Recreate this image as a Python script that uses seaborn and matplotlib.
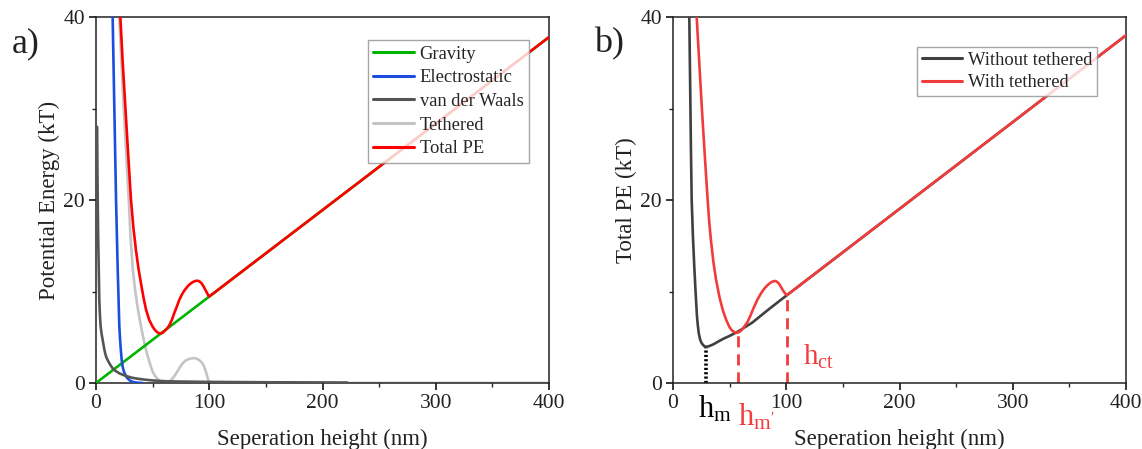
import numpy as np
import pandas as pd
import matplotlib
matplotlib.use("Agg")
import matplotlib.pyplot as plt
import seaborn as sns
from matplotlib.lines import Line2D

# ---------------- data ----------------
# Panel a
grav_x = [0, 100, 400]
grav_y = [0.0, 9.45, 37.8]

elec_x = [13.5, 14.7, 16.2, 17.7, 19.1, 20.6, 21.3, 22.0, 22.7, 23.5, 24.5, 25.5, 26.7, 27.9,
          29.5, 31.0, 33.0, 35.3, 38.0, 41.0]
elec_y = [45.0, 40.0, 30.0, 20.0, 12.7, 6.15, 4.7, 3.5, 2.5, 1.8, 1.3, 1.0, 0.7, 0.5,
          0.32, 0.2, 0.1, 0.05, 0.02, 0.0]

vdw_x = [1.0, 1.2, 1.5, 1.9, 2.4, 2.9, 3.4, 4.0, 4.9, 5.9, 7.0, 8.0, 9.0, 10.3, 12.5, 14.7,
         17.5, 20.6, 24.0, 27.0, 31.0, 35.0, 42.0, 50.0, 57.0, 64.0, 80.0, 100.0, 150.0, 222.0]
vdw_y = [28.0, 24.0, 20.0, 16.0, 12.7, 9.1, 7.6, 6.3, 5.4, 4.7, 3.9, 3.3, 2.85, 2.5, 2.0, 1.6,
         1.3, 1.06, 0.88, 0.75, 0.6, 0.5, 0.38, 0.28, 0.22, 0.18, 0.15, 0.12, 0.08, 0.05]

teth_x = [19.5, 20.5, 22.5, 24.5, 26.7, 28.9, 30.5, 32.3, 34.2, 36.2, 38.2, 40.2, 42.2, 44.2,
          46.2, 48.2, 50.0, 52.0, 54.0, 55.7, 57.4, 59.0, 61.0, 63.0, 64.5, 66.0, 68.0, 70.0,
          72.0, 74.0, 76.5, 79.0, 82.0, 84.5, 86.8, 89.0, 90.5, 92.3, 94.0, 95.5, 97.0, 98.5,
          100.0, 400.0]
teth_y = [45.0, 40.0, 35.0, 30.0, 25.0, 20.0, 16.0, 12.7, 10.5, 8.7, 7.25, 5.9, 4.7, 3.6,
          2.7, 1.9, 1.24, 0.8, 0.5, 0.28, 0.15, 0.07, 0.02, 0.05, 0.15, 0.3, 0.55, 0.9,
          1.3, 1.7, 2.15, 2.45, 2.62, 2.7, 2.72, 2.65, 2.55, 2.38, 2.15, 1.8, 1.25, 0.6,
          0.0, 0.0]

tot_x = [20.5, 21.5, 23.6, 26.0, 28.4, 30.9, 33.0, 35.3, 37.5, 39.7, 42.0, 44.2, 47.0, 50.0,
         52.0, 54.0, 56.0, 57.4, 59.0, 61.0, 63.0, 64.7, 67.0, 69.0, 71.5, 73.6, 76.0, 78.0,
         80.5, 82.4, 85.0, 87.0, 89.0, 90.6, 92.0, 93.5, 95.0, 96.5, 98.0, 99.0, 100.0, 400.0]
tot_y = [45.0, 40.0, 35.0, 30.0, 25.0, 20.0, 17.0, 14.5, 12.5, 10.9, 9.3, 8.0, 6.9, 6.15,
         5.8, 5.55, 5.43, 5.42, 5.5, 5.75, 6.0, 6.3, 6.9, 7.6, 8.4, 9.1, 9.7, 10.1,
         10.5, 10.75, 11.0, 11.12, 11.18, 11.15, 11.05, 10.85, 10.55, 10.2, 9.85, 9.6, 9.45, 37.8]

# Panel b
wo_x = [13.8, 14.4, 14.9, 15.4, 15.9, 16.5, 17.6, 18.8, 20.0, 21.2, 22.0, 22.8, 24.1, 25.3,
        26.8, 28.0, 29.1, 30.5, 33.0, 36.0, 39.5, 45.0, 50.0, 57.1, 70.0, 85.0, 100.6, 400.0]
wo_y = [45.0, 40.0, 35.0, 30.0, 25.0, 20.0, 16.0, 12.7, 9.8, 7.25, 6.2, 5.4, 4.7, 4.35,
        4.12, 4.0, 3.97, 3.98, 4.08, 4.25, 4.5, 4.87, 5.15, 5.6, 6.6, 8.1, 9.6, 38.0]

w_x = [20.3, 20.9, 23.2, 25.5, 28.0, 30.6, 32.0, 33.5, 35.7, 38.0, 41.0, 43.9, 46.8, 49.7,
       52.0, 54.0, 55.5, 57.1, 58.5, 60.0, 62.0, 64.0, 65.9, 68.5, 71.5, 74.5, 77.7, 80.5,
       83.5, 86.5, 89.4, 91.0, 92.5, 94.0, 95.3, 96.7, 98.0, 99.3, 100.6, 400.0]
w_y = [45.0, 40.0, 35.0, 30.0, 25.0, 20.0, 17.6, 15.6, 13.2, 11.3, 9.4, 8.0, 6.95, 6.15,
       5.75, 5.57, 5.5, 5.5, 5.57, 5.72, 6.0, 6.35, 6.7, 7.4, 8.3, 9.1, 9.8, 10.3,
       10.7, 11.0, 11.15, 11.12, 11.0, 10.78, 10.5, 10.2, 9.95, 9.75, 9.6, 38.0]

hm, hm_y = 29.1, 3.97
hmp, hmp_y = 57.1, 5.5
hct, hct_y = 100.6, 9.6

x_ticks = [0, 100, 200, 300, 400]
y_ticks = [0, 20, 40]

# ---------------- style ----------------
sns.set_style("ticks")
plt.rcParams["font.family"] = ["Liberation Serif", "DejaVu Serif"]
plt.rcParams["mathtext.fontset"] = "custom"
plt.rcParams["mathtext.rm"] = "Liberation Serif"
plt.rcParams["mathtext.it"] = "Liberation Serif:italic"

W, H = 1142, 449
fig = plt.figure(figsize=(W / 100, H / 100), dpi=100)

def px_axes(l, r, t, b):
    return fig.add_axes([l / W, 1 - b / H, (r - l) / W, (b - t) / H])

axa = px_axes(96, 549, 17, 383)
axb = px_axes(673, 1126, 17, 383)

lw = 1.9
c_green = "#00b400"
c_blue = "#1a4de0"
c_vdw = "#555555"
c_teth = "#c4c4c4"
c_red = "#ff0000"

def line(ax, xs, ys, color, label, z, lw=lw):
    df = pd.DataFrame({"x": xs, "y": ys})
    sns.lineplot(data=df, x="x", y="y", color=color, lw=lw, sort=False,
                 estimator=None, ax=ax, label=label, zorder=z, legend=False)

line(axa, grav_x, grav_y, c_green, "Gravity", 3)
line(axa, elec_x, elec_y, c_blue, "Electrostatic", 3)
line(axa, vdw_x, vdw_y, c_vdw, "van der Waals", 3)
line(axa, teth_x, teth_y, c_teth, "Tethered", 2)
line(axa, tot_x, tot_y, c_red, "Total PE", 4)

c_blk = "#404040"
c_red2 = "#f23c3c"
line(axb, wo_x, wo_y, c_blk, "Without tethered", 3)
line(axb, w_x, w_y, c_red2, "With tethered", 4)

# annotation lines in b
axb.plot([hm, hm], [0, hm_y], color="black", lw=2.6, ls=(0, (0.6, 0.6)), zorder=2)
axb.plot([hmp, hmp], [0, hmp_y], color=c_red2, lw=2.0, ls=(0, (4, 2.5)), zorder=2)
axb.plot([hct, hct], [0, hct_y], color=c_red2, lw=2.0, ls=(0, (4, 2.5)), zorder=2)

for ax, ylab in [(axa, "Potential Energy (kT)"), (axb, "Total PE (kT)")]:
    ax.set_xlim(0, 400)
    ax.set_ylim(0, 40)
    ax.set_xticks(x_ticks)
    ax.set_yticks(y_ticks)
    ax.set_xticks([50, 150, 250, 350], minor=True)
    ax.set_yticks([10, 30], minor=True)
    ax.tick_params(axis="both", which="major", direction="out", length=5, width=1.1,
                   labelsize=15.5, pad=3, colors="black", labelcolor="#222222")
    ax.tick_params(axis="both", which="minor", direction="out", length=3, width=1.0)
    ax.tick_params(top=False, right=False)
    for s in ax.spines.values():
        s.set_linewidth(1.1)
        s.set_color("#222222")
    ax.set_xlabel("Seperation height (nm)", fontsize=16.5, labelpad=11, color="#222222")
    ax.set_ylabel(ylab, fontsize=16.5, labelpad=2, color="#222222")

# legends
ha = [Line2D([], [], color=c, lw=2.2) for c in [c_green, c_blue, c_vdw, c_teth, c_red]]
leg = axa.legend(ha, ["Gravity", "Electrostatic", "van der Waals", "Tethered", "Total PE"],
                 loc="upper left", bbox_to_anchor=(0.600, 0.937), borderaxespad=0,
                 fontsize=13.3, frameon=True, fancybox=False, handlelength=2.2,
                 handletextpad=0.3, labelspacing=0.36, borderpad=0.3)
leg.get_frame().set_edgecolor("#909090")
leg.get_frame().set_linewidth(1.0)

hb = [Line2D([], [], color=c, lw=2.2) for c in [c_blk, c_red2]]
legb = axb.legend(hb, ["Without tethered", "With tethered"],
                  loc="upper left", bbox_to_anchor=(0.5386, 0.918), borderaxespad=0,
                  fontsize=13.3, frameon=True, fancybox=False, handlelength=2.2,
                  handletextpad=0.3, labelspacing=0.3, borderpad=0.25)
legb.get_frame().set_edgecolor("#909090")
legb.get_frame().set_linewidth(1.0)

# labels in b
axb.text(114.7, 1.97, r"h$_{\rm ct}$", color=c_red2, fontsize=21, ha="left", va="baseline")
axb.text(21.8, -3.8, r"h$_{\rm m}$", color="black", fontsize=22, ha="left", va="baseline", clip_on=False)
axb.text(57.4, -4.6, r"h$_{\rm m'}$", color=c_red2, fontsize=22, ha="left", va="baseline", clip_on=False)

fig.text(12 / W, 1 - 44 / H, "a)", fontsize=26, ha="left", va="center", color="#222222")
fig.text(594 / W, 1 - 44 / H, "b)", fontsize=26, ha="left", va="center", color="#222222")

fig.savefig("out.png", dpi=100)
